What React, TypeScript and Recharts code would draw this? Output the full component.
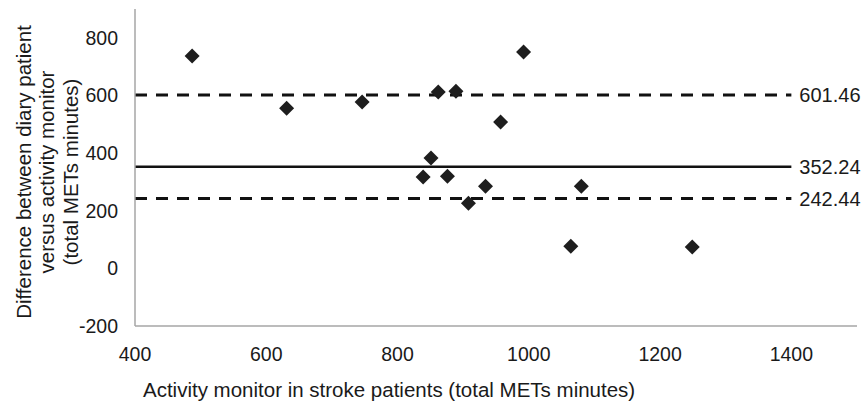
import {
  ScatterChart,
  Scatter,
  XAxis,
  YAxis,
  ReferenceLine,
} from 'recharts'

// activity monitor (x) vs difference diary - monitor (y)
const monitorMinutes = [487, 631, 746, 862, 889, 957, 851, 839, 876, 908, 934, 1080, 1064, 1249, 992]
const differenceMinutes = [737, 556, 577, 612, 615, 508, 383, 317, 320, 226, 285, 285, 77, 74, 751]

const xTicks = [400, 600, 800, 1000, 1200, 1400]
const yTicks = [-200, 0, 200, 400, 600, 800]

const meanDiff = 352.24
const upperLimit = 601.46
const lowerLimit = 242.44
const lineStart = 400
const lineEnd = 1400

const points = monitorMinutes.map((x, i) => ({ x, y: differenceMinutes[i] }))

const FONT = '"Liberation Sans", Arial, sans-serif'
const TEXT = '#1a1a1a'

function Diamond(props: any) {
  const { cx, cy } = props
  const r = 7.5
  return (
    <polygon
      points={`${cx},${cy - r} ${cx + r},${cy} ${cx},${cy + r} ${cx - r},${cy}`}
      fill="#1e1e1e"
    />
  )
}

function YTitle() {
  const lines = ['Difference between diary patient', 'versus activity monitor', '(total METs minutes)']
  return (
    <g>
      {lines.map((t, i) => (
        <text
          key={t}
          transform={`translate(${23 + i * 23.5}, 172) rotate(-90)`}
          textAnchor="middle"
          dominantBaseline="central"
          fontSize={20.5}
          fontFamily={FONT}
          fill={TEXT}
        >
          {t}
        </text>
      ))}
    </g>
  )
}

function lineLabel(value: number) {
  return {
    value: value.toFixed(2),
    position: 'right' as const,
    offset: 8,
    fontSize: 20,
    fontFamily: FONT,
    fill: TEXT,
  }
}

export default function App() {
  return (
    <div style={{ position: 'absolute', left: 0, top: 0, width: 864, height: 404, background: '#fff' }}>
      <ScatterChart width={864} height={404} margin={{ top: 9, right: 7, bottom: 0, left: 0 }}>
        <XAxis
          type="number"
          dataKey="x"
          domain={[400, 1500]}
          ticks={xTicks}
          allowDataOverflow
          tickLine={false}
          tickSize={0}
          tickMargin={21}
          height={78}
          axisLine={{ stroke: '#a6a6a6', strokeWidth: 1.5 }}
          tick={{ fontSize: 19.5, fontFamily: FONT, fill: TEXT }}
          label={{
            value: 'Activity monitor in stroke patients (total METs minutes)',
            position: 'insideBottomLeft',
            offset: 7,
            dx: 1,
            fontSize: 20.5,
            fontFamily: FONT,
            fill: TEXT,
          }}
        />
        <YAxis
          type="number"
          dataKey="y"
          domain={[-200, 900]}
          ticks={yTicks}
          allowDataOverflow
          tickLine={false}
          tickSize={0}
          tickMargin={17}
          width={135}
          axisLine={{ stroke: '#a6a6a6', strokeWidth: 1.5 }}
          tick={{ fontSize: 19.5, fontFamily: FONT, fill: TEXT }}
          label={<YTitle />}
        />
        <ReferenceLine
          segment={[{ x: lineStart, y: upperLimit }, { x: lineEnd, y: upperLimit }]}
          stroke="#111"
          strokeWidth={3}
          strokeDasharray="12 9"
          label={lineLabel(upperLimit)}
        />
        <ReferenceLine
          segment={[{ x: lineStart, y: meanDiff }, { x: lineEnd, y: meanDiff }]}
          stroke="#111"
          strokeWidth={2.5}
          label={lineLabel(meanDiff)}
        />
        <ReferenceLine
          segment={[{ x: lineStart, y: lowerLimit }, { x: lineEnd, y: lowerLimit }]}
          stroke="#111"
          strokeWidth={3}
          strokeDasharray="12 9"
          label={lineLabel(lowerLimit)}
        />
        <Scatter data={points} shape={<Diamond />} isAnimationActive={false} />
      </ScatterChart>
    </div>
  )
}
